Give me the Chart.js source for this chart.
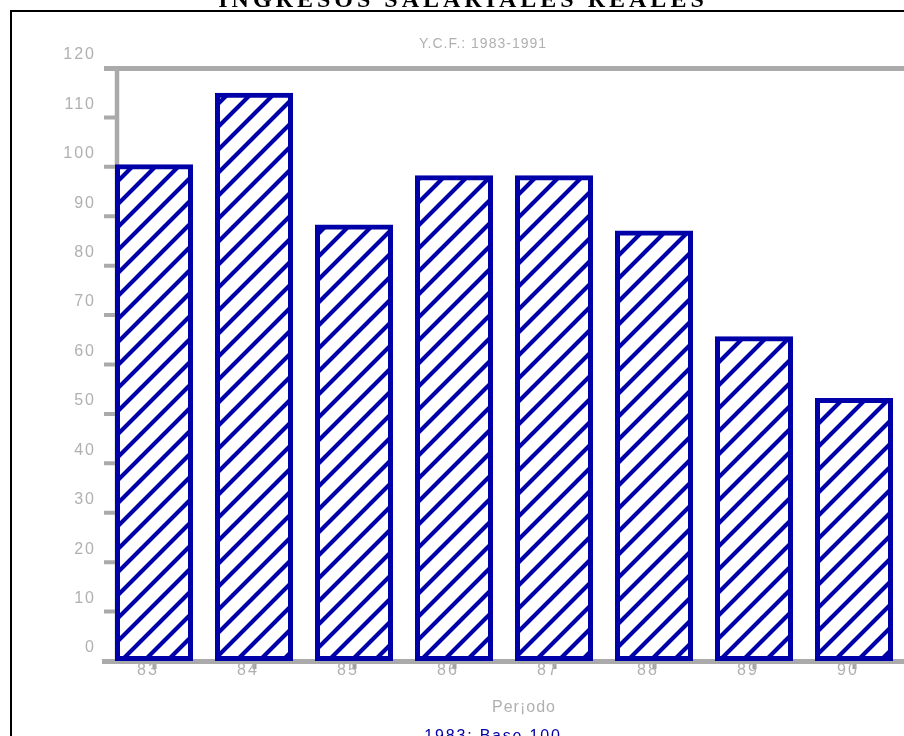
<!DOCTYPE html>
<html>
<head>
<meta charset="utf-8">
<script src="https://cdn.jsdelivr.net/npm/chart.js@4/dist/chart.umd.min.js"></script>
<style>
  html, body { margin: 0; padding: 0; background: #ffffff; }
  #wrap { width: 904px; height: 736px; position: relative; overflow: hidden; }
</style>
</head>
<body>
<div id="wrap"><canvas id="c" width="904" height="736"></canvas></div>
<script>
// Periods (1983-1990) and the real wage index, 1983 = 100
const periods = ['83', '84', '85', '86', '87', '88', '89', '90'];
const realWageIndex = [100, 114.5, 87.8, 97.8, 97.8, 86.6, 65.2, 52.7];

// Value axis range
const yMin = 0;
const yMax = 120;
const yStep = 10;

// Texts
const chartTitle = 'INGRESOS SALARIALES REALES';
const chartSubtitle = 'Y.C.F.: 1983-1991';
const xAxisTitle = 'Per\u00A1odo';
const baseNote = '1983: Base 100';

const BLUE = '#0000a8';
const AXIS_GREY = '#aaaaaa';
const TEXT_GREY = '#b0b0b0';
const SANS = '"Liberation Sans", Arial, sans-serif';
const SERIF = '"Liberation Serif", "Times New Roman", serif';

// Diagonal "/" hatch fill for the bars
function makeHatch() {
  const s = 23;
  const c = document.createElement('canvas');
  c.width = s; c.height = s;
  const g = c.getContext('2d');
  g.fillStyle = '#ffffff';
  g.fillRect(0, 0, s, s);
  g.strokeStyle = BLUE;
  g.lineWidth = 4.2;
  g.lineCap = 'square';
  g.beginPath();
  g.moveTo(-s, s); g.lineTo(s, -s);
  g.moveTo(0, s); g.lineTo(s, 0);
  g.moveTo(0, 2 * s); g.lineTo(2 * s, 0);
  g.stroke();
  return g.createPattern(c, 'repeat');
}

// Frame, plus grey value axis: vertical rule offset into the plot, with short tick marks
const valueAxisRule = {
  id: 'valueAxisRule',
  beforeDraw(chart) {
    chart.ctx.letterSpacing = '2px';
    const ctx = chart.ctx;
    ctx.save();
    ctx.strokeStyle = '#000000';
    ctx.lineWidth = 2;
    ctx.strokeRect(11, 11, 1200, 1200);
    ctx.restore();
  },
  beforeDatasetsDraw(chart) {
    const { ctx, chartArea, scales } = chart;
    const y = scales.y;
    const axisX = chartArea.left + 13;
    ctx.save();
    ctx.strokeStyle = AXIS_GREY;
    ctx.lineWidth = 4.5;
    ctx.beginPath();
    ctx.moveTo(axisX, y.getPixelForValue(yMax) - 2);
    ctx.lineTo(axisX, y.getPixelForValue(yMin));
    ctx.stroke();
    ctx.lineWidth = 4;
    ctx.beginPath();
    y.ticks.forEach(t => {
      const py = y.getPixelForValue(t.value);
      ctx.moveTo(chartArea.left, py);
      ctx.lineTo(axisX, py);
    });
    ctx.stroke();
    ctx.restore();
  }
};

// Titles and notes
const captions = {
  id: 'captions',
  afterDraw(chart) {
    const ctx = chart.ctx;
    const put = (text, x, y, font, color, spacing, baseline) => {
      ctx.save();
      ctx.font = font;
      ctx.fillStyle = color;
      ctx.letterSpacing = spacing;
      ctx.textAlign = 'center';
      ctx.textBaseline = baseline;
      ctx.fillText(text, x, y);
      ctx.restore();
    };
    put(chartTitle, 463, 7, 'bold 24px ' + SERIF, '#000000', '4px', 'alphabetic');
    put(chartSubtitle, 483, 44, '14px ' + SANS, TEXT_GREY, '1px', 'middle');
    put(xAxisTitle, 524, 708, '16px ' + SANS, TEXT_GREY, '1px', 'middle');
    put(baseNote, 493, 741, '16px ' + SANS, BLUE, '1.8px', 'alphabetic');
  }
};

new Chart(document.getElementById('c'), {
  type: 'bar',
  data: {
    labels: periods,
    datasets: [{
      data: realWageIndex,
      backgroundColor: makeHatch(),
      borderColor: BLUE,
      borderWidth: 5,
      borderSkipped: false,
      inflateAmount: 2.5,
      barPercentage: 0.73,
      categoryPercentage: 1.0
    }]
  },
  options: {
    responsive: false,
    devicePixelRatio: 1,
    animation: false,
    layout: { padding: { top: 68, right: 0, bottom: 0, left: 0 } },
    plugins: {
      legend: { display: false },
      tooltip: { enabled: false },
      title: { display: false }
    },
    scales: {
      x: {
        type: 'category',
        offset: true,
        grid: {
          offset: false,
          drawOnChartArea: false,
          drawTicks: true,
          tickLength: 8,
          tickWidth: 4,
          tickColor: '#a0a0a0'
        },
        border: { display: true, color: AXIS_GREY, width: 5 },
        ticks: {
          color: TEXT_GREY,
          font: { family: SANS, size: 16 },
          padding: -8,
          labelOffset: -6,
          maxRotation: 0,
          autoSkip: false
        },
        afterFit(scale) { scale.height = 75; }
      },
      y: {
        min: yMin,
        max: yMax,
        grid: {
          drawOnChartArea: true,
          drawTicks: false,
          color: ctx => (ctx.tick && ctx.tick.value === yMax) ? AXIS_GREY : 'rgba(0,0,0,0)',
          lineWidth: 5
        },
        border: { display: false },
        ticks: {
          stepSize: yStep,
          color: TEXT_GREY,
          font: { family: SANS, size: 16 },
          padding: 8,
          labelOffset: -13,
          autoSkip: false
        },
        afterFit(scale) { scale.width = 104; }
      }
    }
  },
  plugins: [valueAxisRule, captions]
});
</script>
</body>
</html>
